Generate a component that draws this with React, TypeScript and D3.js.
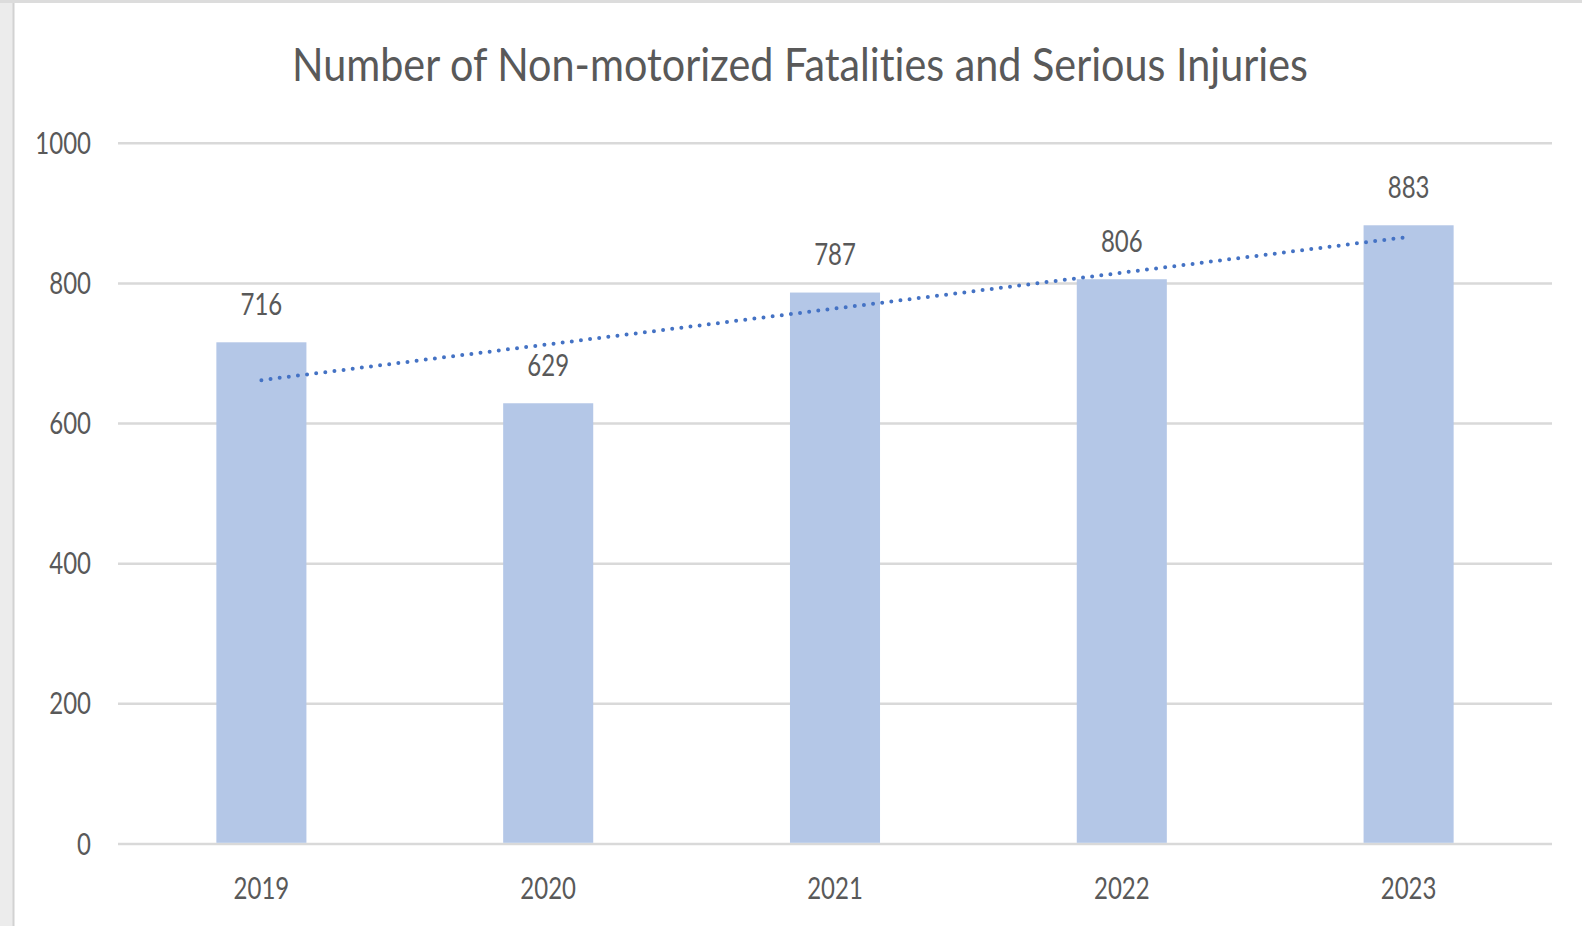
import * as d3 from "d3";

const years = ["2019", "2020", "2021", "2022", "2023"];
const counts = [716, 629, 787, 806, 883];
const yTicks = [0, 200, 400, 600, 800, 1000];
const title = "Number of Non-motorized Fatalities and Serious Injuries";

const W = 1582,
  H = 926,
  left = 118,
  right = 1552,
  top = 143.3,
  bottom = 844,
  textColor = "#595959",
  font = "Lato, 'Open Sans', sans-serif",
  stretch = 1.27;

const x = d3
  .scaleBand<string>()
  .domain(years)
  .range([left, right])
  .paddingInner(0.686)
  .paddingOuter(0.343);

const y = d3.scaleLinear().domain([0, 1000]).range([bottom, top]);

// least squares trend over category index 1..n
function trend(vals: number[]) {
  const xs = vals.map((_, i) => i + 1);
  const mx = d3.mean(xs)!,
    my = d3.mean(vals)!;
  const slope =
    d3.sum(xs, (xi, i) => (xi - mx) * (vals[i] - my)) /
    d3.sum(xs, (xi) => (xi - mx) ** 2);
  return xs.map((xi) => my + slope * (xi - mx));
}

const Label: React.FC<{ x: number; y: number; size: number; anchor: string; text: string; len?: number }> = ({
  x: tx,
  y: ty,
  size,
  anchor,
  text,
  len,
}) => (
  <g transform={`translate(${tx},${ty}) scale(1,${stretch})`}>
    <text
      textAnchor={anchor}
      fontSize={size}
      fontFamily={font}
      fill={textColor}
      textLength={len}
      lengthAdjust={len ? "spacingAndGlyphs" : undefined}
      style={{ fontVariantLigatures: "none" }}
    >
      {text}
    </text>
  </g>
);

export default function App() {
  const fitted = trend(counts);
  const line = d3
    .line<number>()
    .x((_, i) => x(years[i])! + x.bandwidth() / 2)
    .y((d) => y(d));

  return (
    <>
      <style>{`body{margin:0}`}</style>
      <svg width={W} height={H} style={{ display: "block" }}>
        <rect x={0} y={0} width={W} height={H} fill="#ffffff" />
        <rect x={0} y={0} width={13} height={H} fill="#ececec" />
        <rect x={0} y={0} width={W} height={3} fill="#dcdcdc" />
        <line x1={13.5} x2={13.5} y1={3} y2={H} stroke="#d2d2d2" strokeWidth={2} />

        <Label x={800} y={81} size={36} anchor="middle" text={title} len={1016} />

        {yTicks.map((t) => (
          <g key={t}>
            <line x1={left} x2={right} y1={y(t)} y2={y(t)} stroke="#d9d9d9" strokeWidth={2.5} />
            <Label x={91} y={y(t) + 10.5} size={24} anchor="end" text={String(t)} />
          </g>
        ))}

        {counts.map((v, i) => (
          <rect
            key={years[i]}
            x={x(years[i])}
            y={y(v)}
            width={x.bandwidth()}
            height={y(0) - y(v) - 1.2}
            fill="#b4c7e7"
          />
        ))}

        <path
          d={line(fitted) || ""}
          fill="none"
          stroke="#4472c4"
          strokeWidth={4}
          strokeLinecap="round"
          strokeDasharray="0 9.2"
        />

        {counts.map((v, i) => (
          <Label
            key={"v" + years[i]}
            x={x(years[i])! + x.bandwidth() / 2}
            y={y(v) - 27.7}
            size={24}
            anchor="middle"
            text={String(v)}
          />
        ))}

        {years.map((yr) => (
          <Label key={"c" + yr} x={x(yr)! + x.bandwidth() / 2} y={899} size={24} anchor="middle" text={yr} />
        ))}
      </svg>
    </>
  );
}
